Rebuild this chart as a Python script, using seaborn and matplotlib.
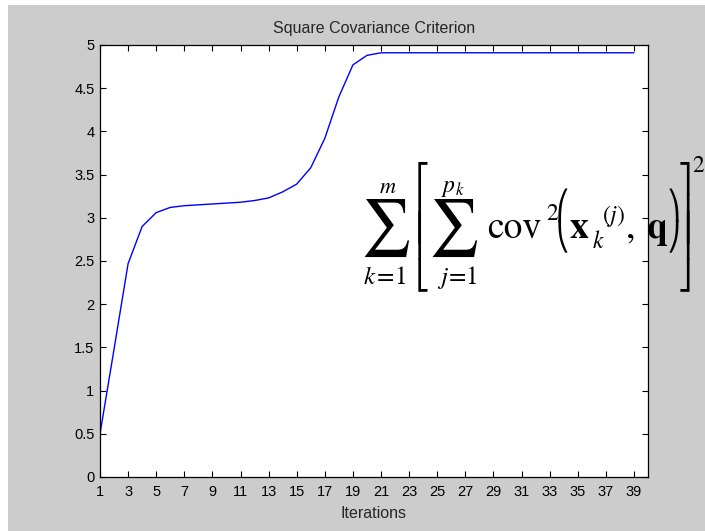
import math
import matplotlib
matplotlib.use("Agg")
import matplotlib.pyplot as plt
from matplotlib.patches import Rectangle
from matplotlib.font_manager import FontProperties
from matplotlib.textpath import TextPath
import seaborn as sns
import pandas as pd

# Criterion value recorded at each iteration
iterations = list(range(1, 40))
criterion = [0.50, 1.48, 2.47, 2.90, 3.06, 3.12, 3.14, 3.15, 3.16, 3.17,
             3.18, 3.20, 3.23, 3.30, 3.39, 3.58, 3.92, 4.40, 4.77, 4.88,
             4.91, 4.91, 4.91, 4.91, 4.91, 4.91, 4.91, 4.91, 4.91, 4.91,
             4.91, 4.91, 4.91, 4.91, 4.91, 4.91, 4.91, 4.91, 4.91]
xticks = list(range(1, 40, 2))
yticks = [0, 0.5, 1, 1.5, 2, 2.5, 3, 3.5, 4, 4.5, 5]

df = pd.DataFrame({"Iterations": iterations, "Criterion": criterion})

sns.set_theme(style="ticks")
plt.rcParams["font.family"] = ["Liberation Sans", "DejaVu Sans"]
plt.rcParams["mathtext.fontset"] = "stix"

W, H = 705, 531
fig = plt.figure(figsize=(W / 100, H / 100), dpi=100, facecolor="white")
PT2PX = fig.dpi / 72.0

# grey window panel
fig.patches.append(Rectangle((8 / W, 0), 1 - 8 / W, 1 - 5 / H,
                             transform=fig.transFigure, facecolor="#cccccc",
                             edgecolor="none", zorder=-10))

ax = fig.add_axes([100 / W, 1 - 477 / H, 548 / W, 432 / H])
ax.set_facecolor("white")
sns.lineplot(data=df, x="Iterations", y="Criterion", ax=ax,
             color="#0000ff", linewidth=1.0)

ax.set_xlim(1, 40)
ax.set_ylim(0, 5)
ax.set_xticks(xticks)
ax.set_yticks(yticks)
ax.set_yticklabels([f"{v:g}" for v in yticks])
ax.tick_params(direction="in", length=4.5, width=0.8, top=True, right=True,
               labelsize=10.5, colors="black")
ax.tick_params(axis="x", pad=6)
ax.tick_params(axis="y", pad=4)
for s in ax.spines.values():
    s.set_visible(True)
    s.set_color("black")
    s.set_linewidth(0.9)

ax.set_title("Square Covariance Criterion", fontsize=11.5, pad=9)
ax.set_xlabel("Iterations", fontsize=11.5, labelpad=5)
ax.set_ylabel("")


# ---- formula, typeset piece by piece in figure pixel coordinates ----
def _ink(s, prop):
    return TextPath((0, 0), s, prop=prop).get_extents()


def place(s, prop, x, y, xref="left", yref="baseline"):
    """Draw s so that its ink edge `xref` sits at x and `yref` at y (px from top)."""
    ext = _ink(s, prop)
    ox = x - (ext.x0 if xref == "left" else ext.x1) * PT2PX
    if yref == "top":
        base = y + ext.y1 * PT2PX
    elif yref == "bottom":
        base = y + ext.y0 * PT2PX
    else:
        base = y
    fig.text(ox / W, 1 - base / H, s, fontproperties=prop,
             ha="left", va="baseline", color="black")
    return ext


def fit(s, left, top, bottom, **font):
    """Large glyph scaled so that its ink spans top..bottom."""
    prop = FontProperties(size=10, **font)
    ext = _ink(s, prop)
    prop.set_size(10 * (bottom - top) / (ext.height * PT2PX))
    place(s, prop, left, bottom, "left", "bottom")


def delimiter(upper, middle, lower, x, top, bottom, xref, size=20):
    """Tall delimiter assembled from its upper, extension and lower pieces."""
    prop = FontProperties(family=["STIXGeneral", "DejaVu Sans"], size=size)
    e_up = place(upper, prop, x, top, xref, "top")
    e_lo = place(lower, prop, x, bottom, xref, "bottom")
    h_up = e_up.height * PT2PX
    h_lo = e_lo.height * PT2PX
    h_mid = _ink(middle, prop).height * PT2PX
    start = top + h_up - 0.5
    end = bottom - h_lo + 0.5 - h_mid
    if end <= start - h_mid:
        return
    n = max(1, math.ceil((end - start) / (h_mid - 1)) + 1)
    for i in range(n):
        t = start if n == 1 else start + (end - start) * i / (n - 1)
        place(middle, prop, x, t, xref, "top")


def put(s, left, baseline, size, **font):
    font.setdefault("family", "STIXGeneral")
    place(s, FontProperties(size=size, **font), left, baseline)


# outer sum with limits
fit("\u2211", 364, 199, 257, family="STIXSizeOneSym")
put("m", 380, 193, 16, style="italic")
put("k", 364, 284, 18, style="italic")
put("=", 378, 284, 18)
put("1", 397, 284, 18)
# left bracket
delimiter("\u23a1", "\u23a2", "\u23a3", 418, 162, 292, "left")
# inner sum with limits
fit("\u2211", 432, 199, 257, family="STIXSizeOneSym")
put("p", 441, 192, 17, style="italic")
put("k", 456, 195, 12, style="italic")
put("j", 437, 284, 18, style="italic")
put("=", 450, 284, 18)
put("1", 468, 284, 18)
# cov^2( x_k^(j), q )
put("cov", 488, 238, 27)
put("2", 547, 220, 17)
delimiter("\u239b", "\u239c", "\u239d", 558, 189, 253, "left")
put("x", 570, 238, 27, weight="bold")
put(r"$(j)$", 603, 222, 17)
put("k", 593, 248, 17, style="italic")
put(",", 628, 238, 27)
put("q", 648, 238, 27, weight="bold")
delimiter("\u239e", "\u239f", "\u23a0", 678, 189, 253, "right")
# right bracket and outer square
delimiter("\u23a4", "\u23a5", "\u23a6", 689, 162, 292, "right")
put("2", 693, 172, 17)

fig.savefig("out.png", dpi=100, facecolor=fig.get_facecolor())
